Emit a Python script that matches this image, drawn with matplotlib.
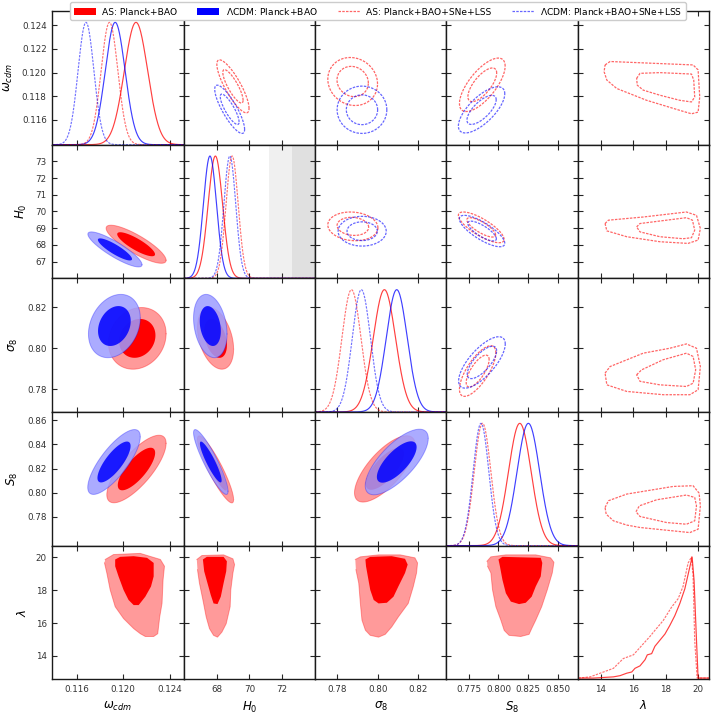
import numpy as np
import matplotlib
matplotlib.use('Agg')
import matplotlib.pyplot as plt
from matplotlib.patches import Patch
from matplotlib.lines import Line2D

# parameters (columns / rows of the triangle)
labels = [r'$\omega_{cdm}$', r'$H_0$', r'$\sigma_8$', r'$S_8$', r'$\lambda$']
lims = [(0.1139, 0.1252), (66.0, 74.0), (0.769, 0.834), (0.7563, 0.8667), (12.58, 20.7)]
xticks = [[0.116, 0.120, 0.124], [68, 70, 72], [0.78, 0.80, 0.82],
          [0.775, 0.800, 0.825, 0.850], [14, 16, 18, 20]]
xticklabels = [['0.116', '0.120', '0.124'], ['68', '70', '72'], ['0.78', '0.80', '0.82'],
               ['0.775', '0.800', '0.825', '0.850'], ['14', '16', '18', '20']]
yticks = [[0.116, 0.118, 0.120, 0.122, 0.124], [67, 68, 69, 70, 71, 72, 73],
          [0.78, 0.80, 0.82], [0.78, 0.80, 0.82, 0.84, 0.86], [14, 16, 18, 20]]
yticklabels = [['0.116', '0.118', '0.120', '0.122', '0.124'],
               ['67', '68', '69', '70', '71', '72', '73'],
               ['0.78', '0.80', '0.82'], ['0.78', '0.80', '0.82', '0.84', '0.86'],
               ['14', '16', '18', '20']]

# 1D marginals (mean, sigma) for omega, H0, sigma8, S8
as_bao_mean = [0.12110, 67.93, 0.8033, 0.8179]
as_bao_std = [0.00100, 0.44, 0.0055, 0.0095]
lcdm_bao_mean = [0.11931, 67.60, 0.8094, 0.8251]
lcdm_bao_std = [0.00085, 0.40, 0.0052, 0.0095]
as_sne_mean = [0.11882, 68.95, 0.7870, 0.7866]
as_sne_std = [0.00072, 0.37, 0.0047, 0.0070]
lcdm_sne_mean = [0.11680, 68.81, 0.7919, 0.7853]
lcdm_sne_std = [0.00068, 0.36, 0.0045, 0.0066]

# lambda 1D posterior (relative height)
lam_bao = [12.62, 13.54, 14.78, 15.19, 15.60, 15.91, 16.11, 16.42, 16.73, 16.87, 17.14, 17.34,
           17.65, 17.96, 18.26, 18.57, 18.88, 19.19, 19.50, 19.64, 19.76, 19.91, 20.01, 20.68]
lam_bao_p = [0.01, 0.01, 0.02, 0.03, 0.05, 0.06, 0.09, 0.11, 0.16, 0.20, 0.21, 0.27,
             0.32, 0.37, 0.44, 0.52, 0.62, 0.74, 0.92, 1.0, 0.81, 0.32, 0.01, 0.01]
lam_sne = [12.62, 13.34, 13.96, 14.78, 15.39, 16.01, 16.62, 17.03, 17.34, 17.85, 18.37,
           18.78, 19.08, 19.39, 19.60, 19.70, 19.80, 19.95, 20.68]
lam_sne_p = [0.01, 0.02, 0.05, 0.09, 0.17, 0.20, 0.29, 0.35, 0.40, 0.48, 0.59,
             0.66, 0.76, 0.95, 1.0, 0.84, 0.32, 0.01, 0.01]

# SH0ES bands on H0
h0_band_light = (71.2, 75.0)
h0_band_dark = (72.6, 75.0)

# 2D contours (cx, cy, x half-extent of 95%, y half-extent of 95%, correlation)
bao_as_ell = {(1, 0): (0.12111, 68.04, 0.00258, 1.14, -0.84),
              (2, 0): (0.12121, 0.8048, 0.00248, 0.0150, 0.15),
              (2, 1): (67.94, 0.8048, 1.10, 0.0150, -0.35),
              (3, 0): (0.12114, 0.8196, 0.00255, 0.0279, 0.76),
              (3, 1): (67.94, 0.8193, 1.10, 0.0277, -0.90),
              (3, 2): (0.8035, 0.8197, 0.0150, 0.0274, 0.72)}
bao_lcdm_ell = {(1, 0): (0.11929, 67.73, 0.00233, 1.05, -0.87),
                (2, 0): (0.11924, 0.8108, 0.00223, 0.0154, 0.25),
                (2, 1): (67.62, 0.8108, 1.02, 0.0154, -0.25),
                (3, 0): (0.11921, 0.8254, 0.00226, 0.0268, 0.78),
                (3, 1): (67.65, 0.8254, 1.05, 0.0268, -0.90),
                (3, 2): (0.8094, 0.8254, 0.0156, 0.0271, 0.72)}
sne_as_ell = {(0, 1): (69.00, 0.11883, 0.98, 0.00224, -0.83),
              (0, 2): (0.7876, 0.11924, 0.0123, 0.00203, -0.1),
              (0, 3): (0.7864, 0.11896, 0.0192, 0.00226, 0.7),
              (1, 2): (0.7877, 69.11, 0.0124, 0.86, -0.1),
              (1, 3): (0.7855, 69.05, 0.0192, 0.92, -0.78),
              (2, 3): (0.7825, 0.7889, 0.0153, 0.0123, 0.72)}
sne_lcdm_ell = {(0, 1): (68.80, 0.11689, 0.91, 0.00204, -0.83),
                (0, 2): (0.7922, 0.11685, 0.0123, 0.0020, 0.0),
                (0, 3): (0.7858, 0.11684, 0.0195, 0.00195, 0.7),
                (1, 2): (0.7923, 68.82, 0.0119, 0.89, 0.0),
                (1, 3): (0.7862, 68.83, 0.0191, 0.94, -0.78),
                (2, 3): (0.7861, 0.7931, 0.0196, 0.0125, 0.72)}

# lambda contours, AS Planck+BAO (filled, lower row)
bao_lam_outer = {
    (4, 0): [(0.11845, 19.86), (0.11917, 20.16), (0.12147, 20.23), (0.12320, 19.86), (0.12355, 19.45),
             (0.12343, 18.63), (0.12334, 17.19), (0.12314, 16.37), (0.12297, 15.35), (0.12262, 15.18),
             (0.12190, 15.18), (0.12147, 15.35), (0.12090, 15.66), (0.12003, 16.27), (0.11931, 16.99),
             (0.11888, 18.01), (0.11859, 19.04), (0.11839, 19.65)],
    (4, 1): [(66.80, 19.86), (67.11, 20.10), (68.43, 20.14), (69.00, 19.90), (69.10, 19.55), (69.00, 19.04),
             (68.87, 18.01), (68.83, 16.99), (68.59, 15.96), (68.33, 15.45), (68.06, 15.14), (67.82, 15.25),
             (67.57, 15.66), (67.37, 16.37), (67.17, 17.40), (66.96, 18.42), (66.84, 19.24)],
    (4, 2): [(0.7889, 19.86), (0.7914, 20.02), (0.8004, 20.14), (0.8111, 20.14), (0.8184, 19.96),
             (0.8197, 19.65), (0.8192, 19.04), (0.8176, 18.22), (0.8151, 17.19), (0.8102, 16.37),
             (0.8069, 15.76), (0.8037, 15.31), (0.8004, 15.14), (0.7963, 15.25), (0.7939, 15.56),
             (0.7922, 16.17), (0.7914, 17.19), (0.7906, 18.42), (0.7892, 19.24)],
    (4, 3): [(0.7903, 19.75), (0.7936, 20.02), (0.8062, 20.14), (0.8313, 20.14), (0.8438, 19.96),
             (0.8466, 19.69), (0.8452, 19.04), (0.8410, 18.01), (0.8363, 16.99), (0.8313, 16.17),
             (0.8279, 15.66), (0.8257, 15.31), (0.8187, 15.18), (0.8089, 15.25), (0.8048, 15.55),
             (0.8020, 16.17), (0.7978, 16.99), (0.7950, 18.01), (0.7936, 19.04), (0.7908, 19.45)]}
bao_lam_inner = {
    (4, 0): [(0.11931, 19.86), (0.11974, 20.02), (0.12090, 20.06), (0.12205, 19.96), (0.12262, 19.65),
             (0.12262, 18.83), (0.12239, 18.22), (0.12190, 17.60), (0.12133, 17.09), (0.12090, 17.09),
             (0.12046, 17.40), (0.12003, 18.01), (0.11960, 18.83), (0.11931, 19.45)],
    (4, 1): [(67.17, 19.86), (67.41, 20.02), (68.43, 20.02), (68.63, 19.75), (68.59, 19.14), (68.43, 18.42),
             (68.26, 17.60), (68.06, 17.15), (67.82, 17.19), (67.65, 17.70), (67.45, 18.42), (67.25, 19.14)],
    (4, 2): [(0.7939, 19.86), (0.7963, 20.02), (0.8069, 20.06), (0.8135, 19.90), (0.8148, 19.55),
             (0.8135, 19.04), (0.8102, 18.22), (0.8078, 17.60), (0.8045, 17.23), (0.8004, 17.19),
             (0.7980, 17.40), (0.7963, 18.01), (0.7951, 18.83), (0.7942, 19.45)],
    (4, 3): [(0.8000, 19.86), (0.8033, 20.02), (0.8355, 19.96), (0.8368, 19.65), (0.8355, 18.83),
             (0.8313, 18.22), (0.8279, 17.60), (0.8229, 17.23), (0.8173, 17.15), (0.8104, 17.30),
             (0.8062, 17.81), (0.8033, 18.63), (0.8012, 19.45)]}

# lambda contours, AS Planck+BAO+SNe+LSS (dashed, right column)
sne_lam_outer = {
    (0, 4): [(14.26, 0.12064), (14.57, 0.12093), (19.70, 0.12064), (20.01, 0.12022), (20.11, 0.11793),
             (20.01, 0.11665), (19.60, 0.11651), (18.88, 0.11680), (16.83, 0.11765), (14.98, 0.11865),
             (14.37, 0.11936), (14.20, 0.12007)],
    (1, 4): [(14.26, 69.28), (14.47, 69.48), (16.62, 69.67), (19.29, 69.97), (19.91, 69.77), (20.15, 68.98),
             (20.01, 68.29), (19.39, 68.09), (17.65, 68.19), (15.60, 68.49), (14.37, 68.84)],
    (2, 4): [(14.26, 0.7879), (14.57, 0.7911), (16.62, 0.7976), (18.26, 0.8000), (19.29, 0.8021),
             (19.91, 0.8000), (20.15, 0.7911), (20.01, 0.7798), (19.50, 0.7774), (17.85, 0.7774),
             (15.60, 0.7790), (14.37, 0.7822)],
    (3, 4): [(14.26, 0.7878), (14.47, 0.7934), (15.60, 0.7989), (18.47, 0.8052), (19.70, 0.8058),
             (20.07, 0.7997), (20.15, 0.7892), (20.01, 0.7699), (19.50, 0.7671), (18.47, 0.7685),
             (16.42, 0.7713), (15.60, 0.7733), (14.78, 0.7768), (14.33, 0.7823)]}
sne_lam_inner = {
    (0, 4): [(16.21, 0.11950), (16.42, 0.11993), (17.65, 0.11999), (19.60, 0.11987), (19.74, 0.11936),
             (19.80, 0.11793), (19.60, 0.11751), (18.88, 0.11765), (17.65, 0.11808), (16.62, 0.11851),
             (16.25, 0.11893)],
    (1, 4): [(16.21, 69.08), (16.42, 69.28), (18.06, 69.48), (19.29, 69.63), (19.66, 69.48), (19.80, 68.88),
             (19.60, 68.43), (19.08, 68.37), (17.65, 68.49), (16.42, 68.78)],
    (2, 4): [(16.21, 0.7871), (16.52, 0.7895), (17.85, 0.7944), (19.29, 0.7976), (19.70, 0.7960),
             (19.86, 0.7895), (19.70, 0.7830), (19.29, 0.7814), (17.65, 0.7822), (16.42, 0.7839)],
    (3, 4): [(16.17, 0.7843), (16.38, 0.7892), (17.45, 0.7942), (19.29, 0.7981), (19.80, 0.7961),
             (19.91, 0.7892), (19.80, 0.7768), (19.29, 0.7740), (18.06, 0.7754), (16.42, 0.7804)]}

RED = '#ff0000'
RED_LIGHT = '#ff9a9a'
BLUE = '#0000ff'
BLUE_LIGHT = '#9c9cff'
DASH = (0, (2, 1))
PEAK = 0.915
INNER = 0.63


def ellipse(e, scale):
    cx, cy, hx, hy, rho = e
    t = np.linspace(0, 2 * np.pi, 240)
    x = cx + scale * hx * np.cos(t)
    y = cy + scale * hy * (rho * np.cos(t) + np.sqrt(1 - rho ** 2) * np.sin(t))
    return x, y


def fill_pair(ax, outer, inner, light, dark, alpha, z):
    ax.fill(outer[0], outer[1], color=light, alpha=alpha, lw=0, zorder=z)
    ax.plot(outer[0], outer[1], color=dark, alpha=0.35 * alpha, lw=0.7, zorder=z)
    ax.fill(inner[0], inner[1], color=dark, alpha=alpha, lw=0, zorder=z + 0.1)


plt.rcParams['font.family'] = 'DejaVu Sans'
fig, axes = plt.subplots(5, 5, figsize=(7.2, 7.19), dpi=100)
fig.subplots_adjust(left=0.0726, right=0.9851, bottom=0.0552, top=0.9847, wspace=0, hspace=0)

for i in range(5):
    for j in range(5):
        ax = axes[i, j]
        ax.set_xlim(lims[j])
        ax.set_ylim(lims[i])
        ax.set_xticks(xticks[j])
        ax.set_yticks(yticks[i])
        ax.tick_params(direction='in', top=True, right=True, length=3.5, width=0.8,
                       labelsize=6.3, labelcolor='0.2', color='0.15', pad=4)
        for s in ax.spines.values():
            s.set_linewidth(1.0)
            s.set_color('0.1')
        if j == 0:
            ax.set_yticklabels(yticklabels[i])
            ax.set_ylabel(labels[i], fontsize=8.5, labelpad=5)
        else:
            ax.set_yticklabels([])
        if i == 4:
            ax.set_xticklabels(xticklabels[j])
            ax.set_xlabel(labels[j], fontsize=8.5)
        else:
            ax.set_xticklabels([])

        tr = ax.get_xaxis_transform()
        if i == j and i < 4:
            x = np.linspace(lims[j][0], lims[j][1], 500)
            if i == 1:
                ax.axvspan(*h0_band_light, color='#f0f0f0', lw=0, zorder=0)
                ax.axvspan(*h0_band_dark, color='#e0e0e0', lw=0, zorder=0.1)
            for m, s, c, ls in [(as_bao_mean, as_bao_std, RED, '-'),
                                (lcdm_bao_mean, lcdm_bao_std, BLUE, '-'),
                                (as_sne_mean, as_sne_std, RED, DASH),
                                (lcdm_sne_mean, lcdm_sne_std, BLUE, DASH)]:
                p = np.exp(-0.5 * ((x - m[i]) / s[i]) ** 2)
                ax.plot(x, PEAK * p, color=c, ls=ls, lw=0.85,
                        alpha=0.75 if ls == '-' else 0.55, transform=tr)
        elif i == j == 4:
            ax.plot(lam_bao, PEAK * np.array(lam_bao_p), color=RED, lw=0.85, alpha=0.75, transform=tr)
            ax.plot(lam_sne, PEAK * np.array(lam_sne_p), color=RED, ls=DASH, lw=0.85, alpha=0.55,
                    transform=tr)
        elif i > j:
            if (i, j) in bao_as_ell:
                fill_pair(ax, ellipse(bao_as_ell[(i, j)], 1.0), ellipse(bao_as_ell[(i, j)], INNER),
                          RED_LIGHT, RED, 1.0, 2)
                fill_pair(ax, ellipse(bao_lcdm_ell[(i, j)], 1.0), ellipse(bao_lcdm_ell[(i, j)], INNER),
                          BLUE_LIGHT, BLUE, 0.85, 3)
            else:
                o = np.array(bao_lam_outer[(i, j)])
                n = np.array(bao_lam_inner[(i, j)])
                fill_pair(ax, (o[:, 0], o[:, 1]), (n[:, 0], n[:, 1]), RED_LIGHT, RED, 1.0, 2)
        else:
            if (i, j) in sne_as_ell:
                for e, c in [(sne_as_ell[(i, j)], RED), (sne_lcdm_ell[(i, j)], BLUE)]:
                    for sc in (1.0, INNER):
                        ex, ey = ellipse(e, sc)
                        ax.plot(ex, ey, color=c, ls=DASH, lw=0.9, alpha=0.6)
            else:
                for poly in (sne_lam_outer[(i, j)], sne_lam_inner[(i, j)]):
                    pp = np.array(poly + [poly[0]])
                    ax.plot(pp[:, 0], pp[:, 1], color=RED, ls=DASH, lw=0.9, alpha=0.6)

handles = [Patch(facecolor=RED, edgecolor='none'), Patch(facecolor=BLUE, edgecolor='none'),
           Line2D([], [], color=RED, ls=DASH, lw=0.9, alpha=0.6),
           Line2D([], [], color=BLUE, ls=DASH, lw=0.9, alpha=0.6)]
names = ['AS: Planck+BAO', r'$\Lambda$CDM: Planck+BAO', 'AS: Planck+BAO+SNe+LSS',
         r'$\Lambda$CDM: Planck+BAO+SNe+LSS']
leg = fig.legend(handles, names, loc='upper center', bbox_to_anchor=(0.525, 1.003), ncol=4,
                 fontsize=6.6, handlelength=2.4, columnspacing=2.2, handletextpad=0.7,
                 borderpad=0.35, framealpha=1.0)
leg.set_zorder(10)

fig.savefig('out.png', dpi=100)
